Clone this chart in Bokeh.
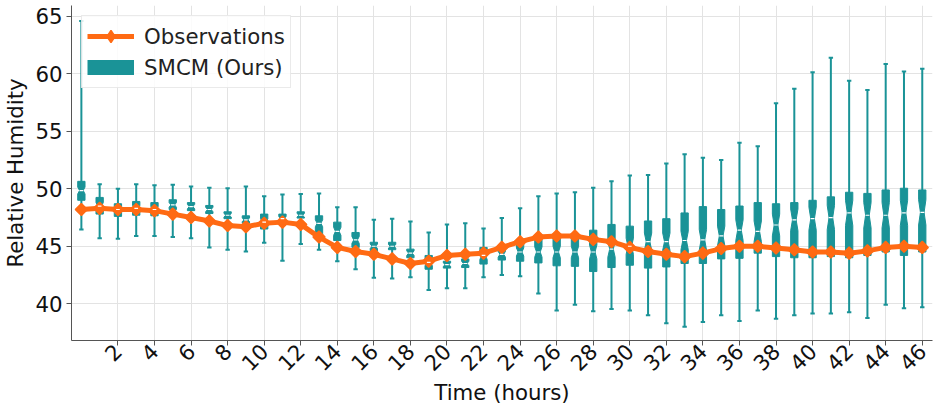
import math
from bokeh.plotting import figure
from bokeh.models import Range1d, FixedTicker, Legend, LegendItem
from bokeh.embed import file_html
from bokeh.resources import INLINE

hours = list(range(47))
observations = [48.2, 48.3, 48.2, 48.2, 48.1, 47.8, 47.5, 47.2, 46.8, 46.7,
                47.0, 47.1, 46.9, 45.8, 44.9, 44.55, 44.3, 43.9, 43.5, 43.7,
                44.2, 44.3, 44.4, 44.9, 45.4, 45.8, 45.9, 45.9, 45.6, 45.4,
                44.9, 44.55, 44.3, 44.1, 44.4, 44.8, 45.0, 45.0, 44.85, 44.7,
                44.5, 44.5, 44.4, 44.6, 44.9, 45.0, 44.9]
whisker_hi = [64.6, 50.4, 50.0, 50.4, 50.3, 50.35, 50.2, 50.1, 50.05, 50.2,
              49.35, 49.5, 49.55, 49.6, 48.4, 48.4, 47.3, 47.4, 47.15, 46.2,
              46.9, 47.0, 46.55, 47.45, 48.3, 49.35, 49.6, 49.7, 50.1, 50.65,
              51.15, 51.2, 52.2, 53.0, 52.7, 52.5, 54.0, 53.7, 57.45, 58.7,
              60.15, 61.4, 59.4, 58.6, 60.85, 60.2, 60.45]
whisker_lo = [46.45, 45.7, 45.65, 45.9, 45.9, 45.8, 45.7, 44.9, 44.7, 44.55,
              45.3, 43.75, 45.2, 44.7, 43.7, 43.0, 42.25, 42.2, 42.3, 41.2,
              41.35, 41.35, 42.3, 42.5, 42.4, 40.9, 39.4, 39.9, 39.35, 39.55,
              39.4, 39.0, 38.3, 38.0, 38.4, 39.0, 38.5, 39.4, 38.7, 39.0,
              39.15, 39.15, 39.25, 38.75, 39.9, 39.6, 39.7]
q3 = [50.65, 49.25, 48.7, 48.9, 48.8, 49.05, 48.8, 48.55, 48.0, 47.65,
      47.8, 47.8, 48.0, 47.65, 47.1, 46.2, 45.35, 45.35, 44.75, 44.2,
      43.7, 43.9, 44.9, 44.75, 45.2, 45.6, 45.8, 45.85, 46.4, 46.9,
      46.75, 47.2, 47.4, 47.9, 48.45, 48.2, 48.5, 48.8, 48.7, 48.8,
      49.0, 49.3, 49.7, 49.6, 49.9, 50.05, 49.9]
q1 = [49.0, 47.8, 47.6, 47.7, 47.65, 48.2, 48.1, 47.85, 47.4, 47.0,
      46.5, 46.95, 47.45, 45.6, 45.5, 44.9, 44.6, 44.7, 44.0, 43.0,
      43.1, 43.15, 43.45, 43.8, 43.7, 43.55, 43.3, 43.25, 42.8, 43.15,
      43.35, 43.1, 43.2, 43.5, 43.5, 43.9, 43.95, 44.4, 44.1, 44.0,
      44.0, 44.1, 44.0, 44.2, 44.5, 44.2, 44.5]
median = [49.85, 48.5, 48.2, 48.3, 48.2, 48.6, 48.45, 48.2, 47.7, 47.3,
          47.1, 47.4, 47.7, 47.0, 46.3, 45.55, 45.0, 45.0, 44.4, 43.6,
          43.4, 43.5, 44.2, 44.3, 44.5, 44.5, 44.5, 44.5, 44.5, 44.75,
          45.0, 45.4, 45.4, 45.5, 45.55, 45.9, 46.4, 46.3, 46.85, 47.3,
          47.4, 47.5, 47.9, 47.7, 47.7, 47.9, 47.95]
notch = [0.3, 0.3, 0.25, 0.25, 0.25, 0.2, 0.2, 0.2, 0.15, 0.15,
         0.3, 0.2, 0.15, 0.3, 0.35, 0.3, 0.2, 0.15, 0.2, 0.3,
         0.15, 0.2, 0.35, 0.25, 0.35, 0.45, 0.5, 0.5, 0.6, 0.7,
         0.7, 0.75, 0.75, 0.8, 0.9, 0.85, 0.9, 0.9, 0.95, 0.95,
         1.0, 1.05, 1.1, 1.1, 1.1, 1.1, 1.1]
x_ticks = list(range(2, 47, 2))
y_ticks = [40, 45, 50, 55, 60, 65]

TEAL = "#1a9397"
ORANGE = "#ff6a13"
FONT = "DejaVu Sans"
FS = "21.3px"
BOX_W = 0.4
CAP_W = 0.24

p = figure(width=936, height=407, output_backend="svg", toolbar_location=None,
           x_range=Range1d(-0.54, 46.56), y_range=Range1d(36.8, 65.95),
           min_border_left=66, min_border_right=4, min_border_top=5,
           min_border_bottom=67)
p.outline_line_color = None
p.background_fill_color = "white"

# whiskers and caps
p.segment(x0=hours, y0=whisker_lo, x1=hours, y1=whisker_hi,
          line_color=TEAL, line_width=2)
cap_x0 = [h - CAP_W / 2 for h in hours]
cap_x1 = [h + CAP_W / 2 for h in hours]
p.segment(x0=cap_x0, y0=whisker_hi, x1=cap_x1, y1=whisker_hi, line_color=TEAL, line_width=2)
p.segment(x0=cap_x0, y0=whisker_lo, x1=cap_x1, y1=whisker_lo, line_color=TEAL, line_width=2)

# notched boxes
xs, ys = [], []
mx0, mx1 = [], []
for h in hours:
    l, r = h - BOX_W / 2, h + BOX_W / 2
    cl, cr = h - BOX_W / 4, h + BOX_W / 4
    nlo = max(q1[h], median[h] - notch[h])
    nhi = min(q3[h], median[h] + notch[h])
    xs.append([l, r, r, cr, r, r, l, l, cl, l])
    ys.append([q1[h], q1[h], nlo, median[h], nhi, q3[h], q3[h], nhi, median[h], nlo])
    mx0.append(cl)
    mx1.append(cr)
p.patches(xs, ys, fill_color=TEAL, line_color=TEAL, line_width=1)

# observations
p.line(hours, observations, line_color=ORANGE, line_width=5)
p.scatter(hours, observations, marker="square", angle=math.pi / 4, size=8.5,
          fill_color=ORANGE, line_color=ORANGE, line_width=1.5)

# medians
p.segment(x0=mx0, y0=median, x1=mx1, y1=median, line_color="white", line_width=1.2)

# legend-only renderers (no data drawn)
nan = float("nan")
leg_line = p.line([nan], [nan], line_color=ORANGE, line_width=5)
leg_mark = p.scatter([nan], [nan], marker="diamond", fill_color=ORANGE,
                     line_color=ORANGE, line_width=1.5)
leg_box = p.line([nan], [nan], line_color=TEAL, line_width=15, line_cap="butt")

legend = Legend(items=[LegendItem(label="Observations", renderers=[leg_line, leg_mark]),
                       LegendItem(label="SMCM (Ours)", renderers=[leg_box])],
                location="top_left")
legend.label_text_font = FONT
legend.label_text_font_size = FS
legend.label_text_color = "#222222"
legend.glyph_width = 47
legend.glyph_height = 30
legend.label_standoff = 10
legend.padding = 5
legend.spacing = 1
legend.margin = 10
legend.border_line_color = "#d5d5d5"
legend.border_line_width = 1
legend.background_fill_alpha = 0.85
p.add_layout(legend)

for ax in (p.xaxis[0], p.yaxis[0]):
    ax.axis_line_color = "#555555"
    ax.axis_line_width = 1
    ax.major_tick_line_color = "#555555"
    ax.major_tick_out = 5
    ax.major_tick_in = 0
    ax.minor_tick_line_color = None
    ax.major_label_text_font = FONT
    ax.major_label_text_font_size = FS
    ax.major_label_text_color = "#111111"
    ax.axis_label_text_font = FONT
    ax.axis_label_text_font_size = FS
    ax.axis_label_text_font_style = "normal"
    ax.axis_label_text_color = "#111111"

p.xaxis.ticker = FixedTicker(ticks=x_ticks)
p.yaxis.ticker = FixedTicker(ticks=y_ticks)
p.xaxis.major_label_orientation = math.pi / 4
p.xaxis.axis_label = "Time (hours)"
p.yaxis.axis_label = "Relative Humidity"
p.xaxis.major_label_standoff = 2
p.yaxis.major_label_standoff = 4
p.xaxis.axis_label_standoff = -1
p.yaxis.axis_label_standoff = 4

p.xgrid.ticker = FixedTicker(ticks=x_ticks)
p.ygrid.ticker = FixedTicker(ticks=y_ticks)
p.xgrid.grid_line_color = "#e3e3e3"
p.ygrid.grid_line_color = "#e3e3e3"

open("out.html", "w").write(file_html(p, INLINE))
